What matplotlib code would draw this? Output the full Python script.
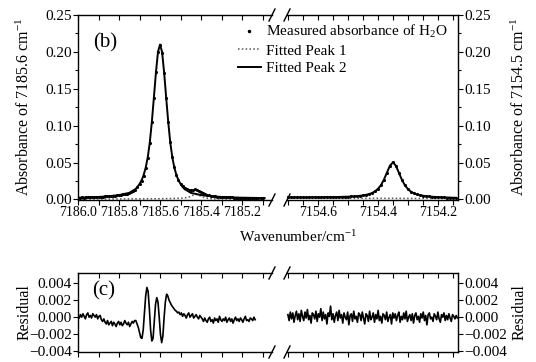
import numpy as np
import matplotlib
matplotlib.use('Agg')
import matplotlib.pyplot as plt
from matplotlib.lines import Line2D
from matplotlib.ticker import MultipleLocator, FuncFormatter

plt.rcParams['font.family'] = ['Liberation Serif', 'DejaVu Serif']
plt.rcParams['mathtext.fontset'] = 'custom'
plt.rcParams['mathtext.rm'] = 'Liberation Serif'
plt.rcParams['mathtext.default'] = 'regular'

# --- measured absorbance, left window (7185.6 line) ---
meas_left_x = [7186.00, 7185.99, 7185.98, 7185.97, 7185.96, 7185.95, 7185.94, 7185.93, 7185.92, 7185.91,
               7185.90, 7185.89, 7185.88, 7185.87, 7185.86, 7185.85, 7185.84, 7185.83, 7185.82, 7185.81,
               7185.80, 7185.79, 7185.78, 7185.77, 7185.76, 7185.75, 7185.74, 7185.73, 7185.72, 7185.71,
               7185.70, 7185.69, 7185.68, 7185.67, 7185.66, 7185.65, 7185.64, 7185.63, 7185.62, 7185.61,
               7185.60, 7185.59, 7185.58, 7185.57, 7185.56, 7185.55, 7185.54, 7185.53, 7185.52, 7185.51,
               7185.50, 7185.49, 7185.48, 7185.47, 7185.46, 7185.45, 7185.44, 7185.43, 7185.42, 7185.41,
               7185.40, 7185.39, 7185.38, 7185.37, 7185.36, 7185.35, 7185.34, 7185.33, 7185.32, 7185.31,
               7185.30, 7185.29, 7185.28, 7185.27, 7185.26, 7185.25, 7185.24, 7185.23, 7185.22, 7185.21,
               7185.20, 7185.19, 7185.18, 7185.17, 7185.16, 7185.15, 7185.14, 7185.13, 7185.12, 7185.11,
               7185.10]
meas_left_y = [0.0025, 0.0022, 0.0027, 0.0025, 0.0029, 0.0027, 0.0031, 0.0030, 0.0033, 0.0032,
               0.0035, 0.0035, 0.0037, 0.0041, 0.0041, 0.0044, 0.0046, 0.0049, 0.0052, 0.0055,
               0.0058, 0.0063, 0.0068, 0.0074, 0.0080, 0.0087, 0.0101, 0.0116, 0.0135, 0.0166,
               0.0205, 0.0254, 0.0322, 0.0421, 0.0561, 0.0762, 0.1045, 0.1376, 0.1725, 0.2005,
               0.2095, 0.1990, 0.1708, 0.1372, 0.1048, 0.0775, 0.0576, 0.0436, 0.0336, 0.0265,
               0.0216, 0.0178, 0.0152, 0.0137, 0.0131, 0.0128, 0.0135, 0.0140, 0.0134, 0.0118,
               0.0098, 0.0083, 0.0070, 0.0062, 0.0055, 0.0050, 0.0046, 0.0043, 0.0039, 0.0036,
               0.0033, 0.0032, 0.0030, 0.0029, 0.0028, 0.0028, 0.0026, 0.0025, 0.0024, 0.0023,
               0.0022, 0.0021, 0.0021, 0.0020, 0.0019, 0.0019, 0.0018, 0.0018, 0.0017, 0.0017,
               0.0016]

# fitted peak 2 (solid), left window
fit2_left_x = [7186.00, 7185.90, 7185.85, 7185.80, 7185.75, 7185.72, 7185.71, 7185.70, 7185.69, 7185.68,
               7185.67, 7185.66, 7185.65, 7185.64, 7185.63, 7185.62, 7185.61, 7185.60, 7185.59, 7185.58,
               7185.57, 7185.56, 7185.55, 7185.54, 7185.53, 7185.52, 7185.51, 7185.50, 7185.49, 7185.48,
               7185.45, 7185.40, 7185.35, 7185.30, 7185.20, 7185.09]
fit2_left_y = [0.0024, 0.0034, 0.0044, 0.0060, 0.0090, 0.0140, 0.0170, 0.0210, 0.0260, 0.0330,
               0.0430, 0.0570, 0.0770, 0.1050, 0.1380, 0.1720, 0.2000, 0.2100, 0.2000, 0.1720,
               0.1380, 0.1050, 0.0770, 0.0570, 0.0430, 0.0330, 0.0260, 0.0210, 0.0170, 0.0140,
               0.0090, 0.0060, 0.0044, 0.0034, 0.0024, 0.0019]

# fitted peak 1 (dotted), left window
fit1_left_x = [7186.00, 7185.90, 7185.80, 7185.70, 7185.60, 7185.55, 7185.50, 7185.48, 7185.46, 7185.45,
               7185.44, 7185.43, 7185.42, 7185.41, 7185.40, 7185.39, 7185.38, 7185.36, 7185.34, 7185.30,
               7185.20, 7185.10]
fit1_left_y = [0.0006, 0.0007, 0.0008, 0.0009, 0.0011, 0.0013, 0.0017, 0.0022, 0.0031, 0.0043,
               0.0057, 0.0068, 0.0068, 0.0057, 0.0043, 0.0031, 0.0022, 0.0013, 0.0009, 0.0007,
               0.0006, 0.0005]

# --- right window (7154.5 line) ---
meas_right_x = [7154.71, 7154.70, 7154.69, 7154.68, 7154.67, 7154.66, 7154.65, 7154.64, 7154.63, 7154.62,
                7154.61, 7154.60, 7154.59, 7154.58, 7154.57, 7154.56, 7154.55, 7154.54, 7154.53, 7154.52,
                7154.51, 7154.50, 7154.49, 7154.48, 7154.47, 7154.46, 7154.45, 7154.44, 7154.43, 7154.42,
                7154.41, 7154.40, 7154.39, 7154.38, 7154.37, 7154.36, 7154.35, 7154.34, 7154.33, 7154.32,
                7154.31, 7154.30, 7154.29, 7154.28, 7154.27, 7154.26, 7154.25, 7154.24, 7154.23, 7154.22,
                7154.21, 7154.20, 7154.19, 7154.18, 7154.17, 7154.16, 7154.15, 7154.14]
meas_right_y = [0.0026, 0.0030, 0.0027, 0.0031, 0.0028, 0.0032, 0.0030, 0.0033, 0.0034, 0.0031,
                0.0035, 0.0033, 0.0034, 0.0030, 0.0033, 0.0031, 0.0034, 0.0032, 0.0035, 0.0034,
                0.0037, 0.0038, 0.0041, 0.0042, 0.0046, 0.0049, 0.0056, 0.0062, 0.0073, 0.0086,
                0.0110, 0.0143, 0.0195, 0.0266, 0.0365, 0.0456, 0.0505, 0.0459, 0.0360, 0.0269,
                0.0190, 0.0143, 0.0105, 0.0085, 0.0068, 0.0059, 0.0052, 0.0044, 0.0041, 0.0036,
                0.0034, 0.0031, 0.0030, 0.0027, 0.0026, 0.0024, 0.0023, 0.0022]

fit2_right_x = [7154.71, 7154.65, 7154.60, 7154.55, 7154.50, 7154.47, 7154.45, 7154.43, 7154.42, 7154.41,
                7154.40, 7154.39, 7154.38, 7154.37, 7154.36, 7154.35, 7154.34, 7154.33, 7154.32, 7154.31,
                7154.30, 7154.29, 7154.28, 7154.27, 7154.25, 7154.23, 7154.20, 7154.15, 7154.14]
fit2_right_y = [0.0028, 0.0029, 0.0030, 0.0032, 0.0038, 0.0045, 0.0055, 0.0072, 0.0087, 0.0109,
                0.0144, 0.0193, 0.0268, 0.0363, 0.0458, 0.0503, 0.0457, 0.0362, 0.0267, 0.0192,
                0.0142, 0.0106, 0.0084, 0.0069, 0.0051, 0.0040, 0.0032, 0.0024, 0.0023]

fit1_right_x = [7154.71, 7154.60, 7154.50, 7154.40, 7154.30, 7154.20, 7154.14]
fit1_right_y = [0.0018, 0.0017, 0.0016, 0.0016, 0.0015, 0.0014, 0.0013]

# --- residuals (units of 1e-4), sampled uniformly across each window ---
resid_left = [2, -1, 3, 0, 4, 1, -2, 3, 5, 0, 2, -1, 4, 2, 0, 3, -2, 1, 2,
              -3, -5, -2, -6, -8, -4, -9, -7, -5, -10, -6, -8, -11, -7, -5, -9, -6, -10, -8, -4,
              -7, -9, -6, -11, -8, -5, -7, -4,
              -4, -8, -12, -18, -24, -25, -15, 5, 25, 35, 30, 10, -15, -28, -25, -5, 15, 23, 18, 0,
              -20, -30, -22, 0, 18, 27, 25, 20, 17, 14, 12, 10, 8, 7, 5,
              6, 3, 5, 1, 4, 2, -1, 3, 5, 0, 2, 4, -1, 1, 3, 0, -2, 2, 0,
              -2, -5, -1, -4, -6, -2, 0, -5, -3, -7, -1, -4, -2, -6, 1, -3, -5, -2, -4, 0, -6, -3,
              -1, -5, -2, -7, -3, 0, -4, -2, -5, -1, -3, -6, -2, 1, -4, -3, -5, -1, -2, -4, 0, -3]
resid_right = [3, -4, 6, -2, 5, -6, 2, 7, -3, 4, -5, 8, 1, -4, 6, -1, 9, -3, 2, -7, 5, 3, -2, 7,
               -5, 4, 0, 10, -4, 6, -2, 3, -8, 5, 1, 13, -3, 4, -6, 2, 6, -4, 8, -1, 3, -7, 5, 0,
               -3, 6, -9, 2, 4, -5, 7, -2, 1, -6, 5, 3, -4, 6, -1, -8, 4, 2, -5, 7, -3, 0, 5, -6,
               3, -2, 8, -4, 1, -7, 4, 2, -3, 6, -5, 0, 3, -8, 5, -1, 4, -4, 2, 6, -6, 1, -3, 5,
               -2, 7, -5, 0, 3, -4, 4, -7, 2, 5, -3, 1, -6, 4, -1, 6, -4, 2, -9, 3, 5, -2, 0, -5,
               4, 1, -3, 6, -2, -6, 3, 0, 5, -4, 2, -3, 4, -1, -5, 3, 1, -2, 2, -1]
resid_left_range = (7186.0, 7185.136)
resid_right_range = (7154.70, 7154.135)

xlim_left = (7186.0, 7185.054)
xlim_right = (7154.703, 7154.133)

W, H = 536, 362
fig = plt.figure(figsize=(W / 100, H / 100), dpi=100)


def box(x0, y0, x1, y1):
    # pixel box (top-left origin) -> figure rect
    return [x0 / W, 1 - y1 / H, (x1 - x0) / W, (y1 - y0) / H]


ax_bl = fig.add_axes(box(78, 15, 272, 200))
ax_br = fig.add_axes(box(287, 15, 458, 200))
ax_rl = fig.add_axes(box(78, 273, 272, 352))
ax_rr = fig.add_axes(box(287, 273, 458, 352))

# top panel
ax_bl.plot(fit1_left_x, fit1_left_y, ls=(0, (1, 1.5)), color='#555555', lw=1.1)
ax_bl.plot(fit2_left_x, fit2_left_y, color='black', lw=1.4)
ax_bl.plot(meas_left_x, meas_left_y, ls='none', marker='.', ms=2.5, color='black')
ax_br.plot(fit1_right_x, fit1_right_y, ls=(0, (1, 1.5)), color='#555555', lw=1.1)
ax_br.plot(fit2_right_x, fit2_right_y, color='black', lw=1.4)
ax_br.plot(meas_right_x, meas_right_y, ls='none', marker='.', ms=2.5, color='black')

# residual panel
rl = np.array(resid_left) * 1e-4
rr = np.array(resid_right) * 1e-4
ax_rl.plot(np.linspace(*resid_left_range, len(rl)), rl, color='black', lw=1.2)
ax_rr.plot(np.linspace(*resid_right_range, len(rr)), rr, color='black', lw=1.2)

fmt1 = FuncFormatter(lambda v, p: f'{v:.1f}')
fmt2 = FuncFormatter(lambda v, p: f'{v:.2f}')
fmt3 = FuncFormatter(lambda v, p: f'{v:.3f}'.replace('-0.000', '0.000').replace('-', '\u2212'))

for ax, xl, mnr in [(ax_bl, xlim_left, 0.1), (ax_br, xlim_right, 0.05),
                    (ax_rl, xlim_left, 0.1), (ax_rr, xlim_right, 0.05)]:
    ax.set_xlim(xl)
    ax.xaxis.set_major_locator(MultipleLocator(0.2))
    ax.xaxis.set_minor_locator(MultipleLocator(mnr))
    ax.xaxis.set_major_formatter(fmt1)
    ax.tick_params(axis='x', which='both', direction='out', length=3.5, width=0.8, labelsize=10, pad=1)
    top = ax.secondary_xaxis('top')
    top.xaxis.set_major_locator(MultipleLocator(mnr))
    top.tick_params(direction='in', length=3.5, width=0.8, labeltop=False)
    top.spines['top'].set_visible(False)
    for s in ax.spines.values():
        s.set_linewidth(1.0)

for ax in (ax_bl, ax_br):
    ax.set_ylim(-0.0007, 0.25)
    ax.yaxis.set_major_locator(MultipleLocator(0.05))
    ax.yaxis.set_minor_locator(MultipleLocator(0.025))
    ax.yaxis.set_major_formatter(fmt2)
for ax in (ax_rl, ax_rr):
    ax.set_ylim(-0.0041, 0.0052)
    ax.yaxis.set_major_locator(MultipleLocator(0.002))
    ax.yaxis.set_major_formatter(fmt3)
    ax.tick_params(axis='x', labelbottom=False)

for ax in (ax_bl, ax_rl):
    ax.spines['right'].set_visible(False)
    ax.tick_params(axis='y', which='both', direction='out', length=3.5, width=0.8, labelsize=11, pad=1)
for ax in (ax_br, ax_rr):
    ax.spines['left'].set_visible(False)
    ax.yaxis.tick_right()
    ax.tick_params(axis='y', which='both', direction='out', length=3.5, width=0.8, labelsize=11, pad=1)
ax_bl.tick_params(axis='y', which='minor', length=2)
ax_br.tick_params(axis='y', which='minor', length=2)


def slash(ax, xa):
    bb = ax.get_position()
    dx = 3 / (bb.width * W)
    dy = 6 / (bb.height * H)
    for ya in (0, 1):
        ax.plot([xa - dx, xa + dx], [ya - dy, ya + dy], transform=ax.transAxes,
                color='black', lw=1.0, clip_on=False)


for ax in (ax_bl, ax_rl):
    slash(ax, 1)
for ax in (ax_br, ax_rr):
    slash(ax, 0)

# labels
fig.text(24 / W, 1 - 107 / H, 'Absorbance of 7185.6 cm$^{-1}$', rotation=90,
         ha='center', va='center', fontsize=11.5)
fig.text(519 / W, 1 - 107 / H, 'Absorbance of 7154.5 cm$^{-1}$', rotation=90,
         ha='center', va='center', fontsize=11.5)
fig.text(298 / W, 1 - 237 / H, 'Wavenumber/cm$^{-1}$', ha='center', va='center', fontsize=11)
fig.text(25 / W, 1 - 312 / H, 'Residual', rotation=90, ha='center', va='center', fontsize=11.5)
fig.text(520 / W, 1 - 312 / H, 'Residual', rotation=90, ha='center', va='center', fontsize=11.5)
fig.text(105 / W, 1 - 43 / H, '(b)', ha='center', va='center', fontsize=15)
fig.text(104 / W, 1 - 291 / H, '(c)', ha='center', va='center', fontsize=15)

handles = [Line2D([], [], ls='none', marker='.', ms=3, color='black'),
           Line2D([], [], ls=(0, (1, 1.5)), color='#555555', lw=1.1),
           Line2D([], [], color='black', lw=1.4)]
labels = ['Measured absorbance of H$_2$O', 'Fitted Peak 1', 'Fitted Peak 2']
fig.legend(handles, labels, loc='upper left', bbox_to_anchor=(238 / W, 1 - 23 / H),
           frameon=False, fontsize=11, handlelength=1.5, handletextpad=0.3,
           labelspacing=0.25, borderpad=0, borderaxespad=0)

fig.savefig('out.png', dpi=100)
